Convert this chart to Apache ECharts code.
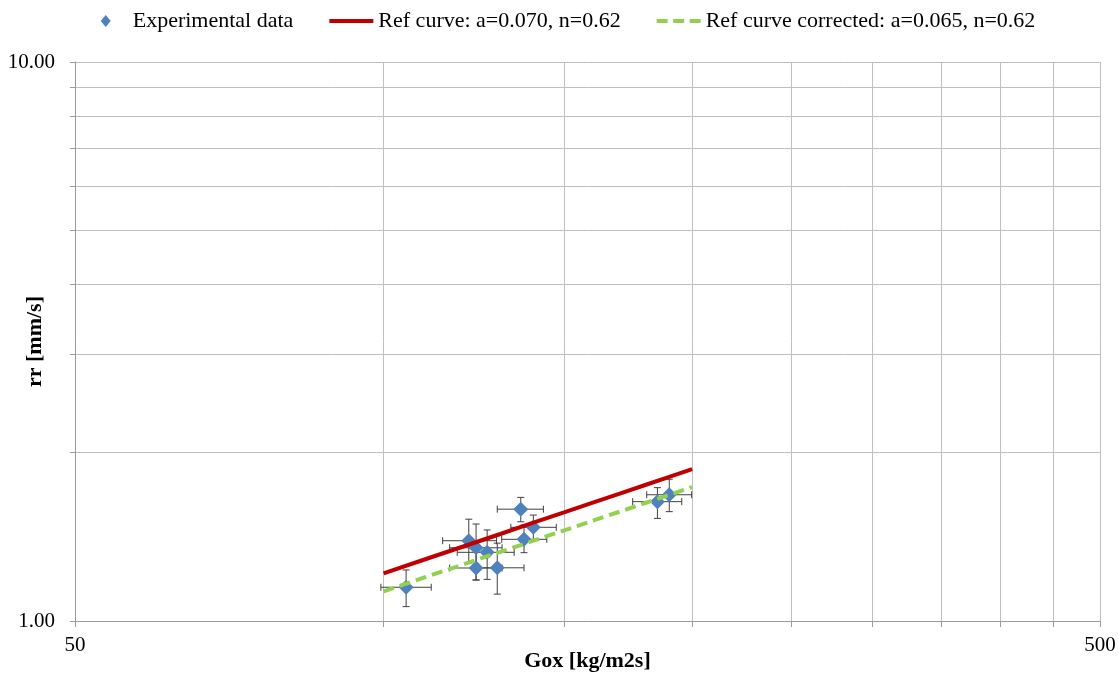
<!DOCTYPE html>
<html>
<head>
<meta charset="utf-8">
<title>Regression rate vs oxidizer mass flux</title>
<script src="https://cdn.jsdelivr.net/npm/echarts@6/dist/echarts.min.js"></script>
<style>
  html, body { margin: 0; padding: 0; background: #ffffff; }
  #chart { width: 1119px; height: 675px; }
</style>
</head>
<body>
<div id="chart"></div>
<script>
// Experimental points: oxidizer mass flux Gox [kg/m2s] and regression rate rr [mm/s]
const goxData = [105.2, 121.1, 123.1, 126.2, 123.1, 129.1, 136.1, 137.1, 140.0, 185.0, 190.0];
const rrData  = [1.149, 1.392, 1.352, 1.327, 1.244, 1.245, 1.585, 1.400, 1.471, 1.635, 1.682];

// Error bar limits for each point
const goxLow  = [99.4, 114.2, 116.0, 118.0, 116.0, 123.1, 129.1, 130.4, 133.1, 175.0, 180.6];
const goxHigh = [111.3, 128.9, 130.5, 134.1, 130.5, 137.1, 143.2, 144.3, 147.4, 195.4, 199.8];
const rrLow   = [1.061, 1.270, 1.184, 1.187, 1.184, 1.117, 1.505, 1.325, 1.396, 1.526, 1.569];
const rrHigh  = [1.234, 1.521, 1.491, 1.455, 1.367, 1.378, 1.664, 1.485, 1.547, 1.732, 1.793];

// Reference curves rr = a * Gox^n
const curveGox = [100, 110, 120, 130, 140, 150, 160, 170, 180, 190, 200];
const refRr    = [1.217, 1.291, 1.362, 1.431, 1.499, 1.564, 1.628, 1.690, 1.751, 1.811, 1.870];
const corrRr   = [1.130, 1.199, 1.265, 1.329, 1.392, 1.452, 1.512, 1.569, 1.626, 1.682, 1.736];

// Axis ticks and labels
const xTickValues  = [50, 100, 150, 200, 250, 300, 350, 400, 450, 500];
const xLabelValues = [50, 500];
const yTickValues  = [1, 2, 3, 4, 5, 6, 7, 8, 9, 10];
const yLabelValues = [1, 10];

const seriesNames = [
  'Experimental data',
  'Ref curve: a=0.070, n=0.62',
  'Ref curve corrected: a=0.065, n=0.62'
];

const FONT = '"Liberation Serif", "Times New Roman", serif';
const GRID_COLOR = '#BFBFBF';
const AXIS_COLOR = '#9A9A9A';
const MARKER_COLOR = '#4F81BD';
const RED = '#C00000';
const GREEN = '#92D050';

// Legend icons sized to a 44x12 box
const ICON_DIAMOND = 'path://M0,6L0,6M44,6L44,6M22,0L27,6L22,12L17,6Z';
const ICON_SOLID = 'path://M0,0L0,0M0,12L0,12M0,4L44,4L44,8L0,8Z';
const ICON_DASHED = 'path://M0,0L0,0M44,12L44,12M0,4L11,4L11,8L0,8ZM16.5,4L27.5,4L27.5,8L16.5,8ZM33,4L44,4L44,8L33,8Z';

const scatterPoints = goxData.map((g, i) => [g, rrData[i]]);
const errorPoints = goxData.map((g, i) => [g, rrData[i], goxLow[i], goxHigh[i], rrLow[i], rrHigh[i]]);
const refPoints = curveGox.map((g, i) => [g, refRr[i]]);
const corrPoints = curveGox.map((g, i) => [g, corrRr[i]]);

function renderErrorBars(params, api) {
  const x = api.value(0), y = api.value(1);
  const left = api.coord([api.value(2), y]);
  const right = api.coord([api.value(3), y]);
  const bottom = api.coord([x, api.value(4)]);
  const top = api.coord([x, api.value(5)]);
  const cap = 3.5;
  const style = { stroke: '#404040', lineWidth: 1 };
  const seg = (x1, y1, x2, y2) => ({ type: 'line', shape: { x1, y1, x2, y2 }, style });
  return {
    type: 'group',
    children: [
      seg(left[0], left[1], right[0], right[1]),
      seg(left[0], left[1] - cap, left[0], left[1] + cap),
      seg(right[0], right[1] - cap, right[0], right[1] + cap),
      seg(top[0], top[1], bottom[0], bottom[1]),
      seg(top[0] - cap, top[1], top[0] + cap, top[1]),
      seg(bottom[0] - cap, bottom[1], bottom[0] + cap, bottom[1])
    ]
  };
}

const chart = echarts.init(document.getElementById('chart'), null, { renderer: 'canvas' });

chart.setOption({
  animation: false,
  backgroundColor: '#ffffff',
  textStyle: { fontFamily: FONT },
  legend: {
    top: 5,
    left: 'center',
    itemWidth: 44,
    itemHeight: 12,
    itemGap: 36,
    textStyle: { fontFamily: FONT, fontSize: 22, color: '#000000' },
    data: [
      { name: seriesNames[0], icon: ICON_DIAMOND, itemStyle: { color: MARKER_COLOR, opacity: 1 } },
      { name: seriesNames[1], icon: ICON_SOLID, itemStyle: { color: RED } },
      { name: seriesNames[2], icon: ICON_DASHED, itemStyle: { color: GREEN } }
    ]
  },
  grid: { left: 75, right: 19, top: 62, bottom: 54, containLabel: false, outerBoundsMode: 'none' },
  xAxis: {
    type: 'log',
    logBase: 10,
    min: 50,
    max: 500,
    name: 'Gox [kg/m2s]',
    nameLocation: 'middle',
    nameGap: 29,
    nameMoveOverlap: false,
    nameTextStyle: { fontFamily: FONT, fontSize: 22, fontWeight: 'bold', color: '#000000' },
    axisLine: { show: true, onZero: false, lineStyle: { color: AXIS_COLOR, width: 1 } },
    axisTick: { show: true, length: 6, customValues: xTickValues, lineStyle: { color: AXIS_COLOR } },
    axisLabel: {
      customValues: xLabelValues,
      margin: 14,
      fontFamily: FONT, fontSize: 21, color: '#000000',
      formatter: v => String(Math.round(v))
    },
    splitLine: { show: true, lineStyle: { color: GRID_COLOR, width: 1 } }
  },
  yAxis: {
    type: 'log',
    logBase: 10,
    min: 1,
    max: 10,
    name: 'rr [mm/s]',
    nameLocation: 'middle',
    nameGap: 29,
    nameMoveOverlap: false,
    nameTextStyle: { fontFamily: FONT, fontSize: 22, fontWeight: 'bold', color: '#000000' },
    axisLine: { show: true, lineStyle: { color: AXIS_COLOR, width: 1 } },
    axisTick: { show: true, length: 5, customValues: yTickValues, lineStyle: { color: AXIS_COLOR } },
    axisLabel: {
      customValues: yLabelValues,
      margin: 20,
      fontFamily: FONT, fontSize: 21, color: '#000000',
      formatter: v => v.toFixed(2)
    },
    splitLine: { show: true, lineStyle: { color: GRID_COLOR, width: 1 } }
  },
  series: [
    {
      type: 'custom',
      renderItem: renderErrorBars,
      data: errorPoints,
      encode: { x: 0, y: 1 },
      z: 2,
      silent: true
    },
    {
      name: seriesNames[0],
      type: 'scatter',
      data: scatterPoints,
      symbol: 'diamond',
      symbolSize: 15,
      itemStyle: { color: MARKER_COLOR, opacity: 1 },
      z: 3
    },
    {
      name: seriesNames[1],
      type: 'line',
      data: refPoints,
      showSymbol: false,
      symbol: 'none',
      lineStyle: { color: RED, width: 4 },
      itemStyle: { color: RED },
      z: 4
    },
    {
      name: seriesNames[2],
      type: 'line',
      data: corrPoints,
      showSymbol: false,
      symbol: 'none',
      lineStyle: { color: GREEN, width: 4, type: [11, 6] },
      itemStyle: { color: GREEN },
      z: 5
    }
  ]
});
</script>
</body>
</html>
